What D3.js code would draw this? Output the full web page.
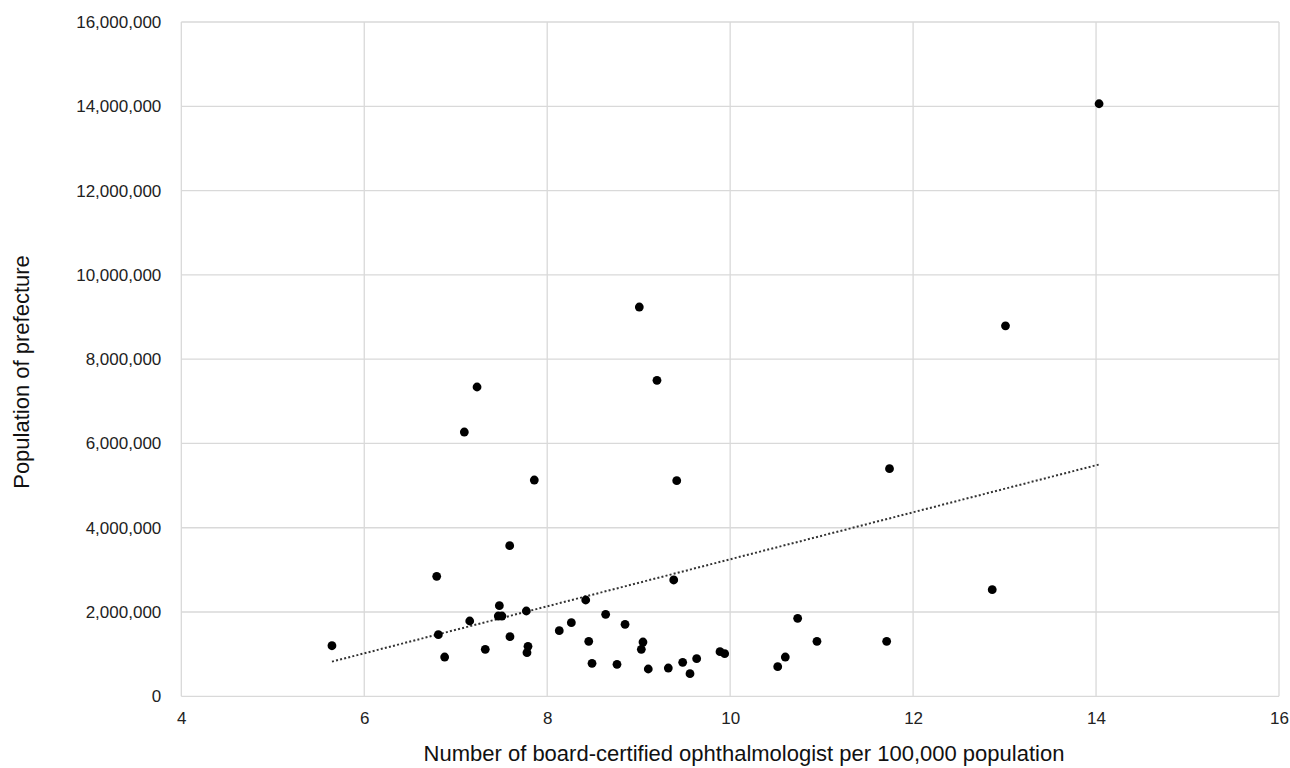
<!DOCTYPE html>
<html>
<head>
<meta charset="utf-8">
<script src="https://cdn.jsdelivr.net/npm/d3@7/dist/d3.min.js"></script>
<style>
  html, body { margin: 0; padding: 0; background: #fff; }
  svg { display: block; font-family: "Liberation Sans", Arial, sans-serif; }
</style>
</head>
<body>
<svg id="chart" width="1290" height="768"></svg>
<script>
// Ophthalmologists per 100,000 population (x) vs prefecture population (y)
const ophthalmologistRate = [
  5.647, 6.792, 7.590, 7.477, 7.465, 7.505, 7.153, 7.772, 6.810, 7.593,
  6.879, 7.323, 7.790, 7.779, 8.421, 8.132, 8.264, 8.639, 8.454, 8.490,
  8.851, 8.763, 9.047, 9.029, 9.105, 9.383, 9.324, 9.481, 9.561, 9.634,
  9.889, 9.940, 10.520, 10.603, 10.738, 10.949, 11.711, 9.007, 9.200, 7.233,
  7.094, 7.859, 9.416, 14.033, 13.010, 11.742, 12.865
];
const prefecturePopulation = [
  1200000, 2847000, 3573000, 2150000, 1905000, 1905000, 1787000, 2024000, 1462000, 1414000,
  932000, 1115000, 1186000, 1035000, 2285000, 1557000, 1746000, 1946000, 1305000, 783000,
  1708000, 759000, 1288000, 1115000, 648000, 2760000, 671000, 807000, 537000, 893000,
  1059000, 1011000, 703000, 932000, 1851000, 1305000, 1305000, 9237000, 7498000, 7339000,
  6271000, 5132000, 5116000, 14060000, 8790000, 5400000, 2530000
];
const xTicks = [4, 6, 8, 10, 12, 14, 16];
const yTicks = [0, 2000000, 4000000, 6000000, 8000000, 10000000, 12000000, 14000000, 16000000];
const xTitle = "Number of board-certified ophthalmologist per 100,000 population";
const yTitle = "Population of prefecture";

const points = ophthalmologistRate.map((x, i) => ({ x, y: prefecturePopulation[i] }));

const svg = d3.select("#chart");
const plot = { left: 181.3, right: 1279, top: 22, bottom: 696.3 };

const x = d3.scaleLinear().domain([4, 16]).range([plot.left, plot.right]);
const y = d3.scaleLinear().domain([0, 16000000]).range([plot.bottom, plot.top]);

const grid = svg.append("g");
grid.selectAll("line.v").data(xTicks).join("line")
  .attr("x1", d => x(d)).attr("x2", d => x(d))
  .attr("y1", plot.top).attr("y2", plot.bottom)
  .attr("stroke", "#d9d9d9").attr("stroke-width", 1.3);
grid.selectAll("line.h").data(yTicks).join("line")
  .attr("x1", plot.left).attr("x2", plot.right)
  .attr("y1", d => y(d)).attr("y2", d => y(d))
  .attr("stroke", "#d9d9d9").attr("stroke-width", 1.3);

// tick labels via d3 axes (domain and tick marks hidden)
const fmt = d3.format(",");
const xAxis = svg.append("g")
  .attr("transform", `translate(0,${plot.bottom})`)
  .call(d3.axisBottom(x).tickValues(xTicks).tickSize(0).tickPadding(16).tickFormat(d3.format("d")));
const yAxis = svg.append("g")
  .attr("transform", `translate(${plot.left},0)`)
  .call(d3.axisLeft(y).tickValues(yTicks).tickSize(0).tickPadding(20).tickFormat(fmt));
[xAxis, yAxis].forEach(a => {
  a.select(".domain").remove();
  a.selectAll("text").attr("font-size", 17).attr("fill", "#222")
    .attr("font-family", "'Liberation Sans', Arial, sans-serif");
});

// least-squares linear trendline over the data range
const mx = d3.mean(points, d => d.x), my = d3.mean(points, d => d.y);
const sxy = d3.sum(points, d => (d.x - mx) * (d.y - my));
const sxx = d3.sum(points, d => (d.x - mx) ** 2);
const slope = sxy / sxx, intercept = my - slope * mx;
const [xmin, xmax] = d3.extent(ophthalmologistRate);
svg.append("path")
  .datum([xmin, xmax])
  .attr("d", d3.line().x(d => x(d)).y(d => y(intercept + slope * d)))
  .attr("fill", "none").attr("stroke", "#333")
  .attr("stroke-width", 2).attr("stroke-dasharray", "2,2.2");

svg.append("g").selectAll("circle").data(points).join("circle")
  .attr("cx", d => x(d.x)).attr("cy", d => y(d.y)).attr("r", 4.4)
  .attr("fill", "#000");

svg.append("text")
  .attr("x", 744).attr("y", 761)
  .attr("text-anchor", "middle").attr("font-size", 22).attr("fill", "#111")
  .text(xTitle);
svg.append("text")
  .attr("transform", "translate(29,372) rotate(-90)")
  .attr("text-anchor", "middle").attr("font-size", 22).attr("fill", "#111")
  .text(yTitle);
</script>
</body>
</html>
